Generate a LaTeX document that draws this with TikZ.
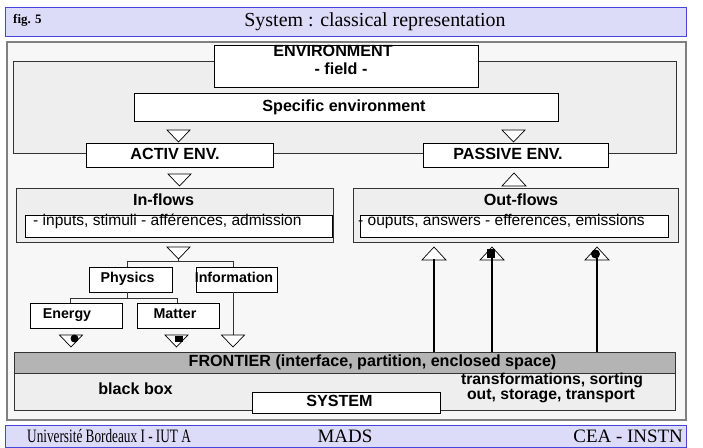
\documentclass[tikz,border=0pt]{standalone}
\usepackage{fontspec}
\setmainfont{Liberation Sans}
\newfontfamily\serifft{Liberation Serif}
\usetikzlibrary{calc}
\definecolor{barfill}{HTML}{DCDCF8}
\definecolor{barline}{HTML}{4646DC}
\definecolor{framefill}{HTML}{F7F7F7}
\definecolor{framebd}{HTML}{808080}
\definecolor{panel}{HTML}{EEEEEE}
\definecolor{frontierfill}{HTML}{B4B4B4}
\definecolor{boxbd}{HTML}{333333}
\begin{document}
\begin{tikzpicture}[x=1bp,y=-1bp,
  bar/.style={draw=barline, fill=barfill, line width=0.8pt, inner sep=0pt},
  wbox/.style={draw=black, fill=white, line width=0.8pt, inner sep=0pt},
  gpanel/.style={draw=boxbd, fill=panel, line width=0.8pt, inner sep=0pt},
  lab/.style={font=\bfseries\fontsize{16.2}{18}\selectfont, inner sep=0pt, anchor=base},
  tlab/.style={font=\bfseries\fontsize{14.3}{16}\selectfont, inner sep=0pt, anchor=base},
  flowtxt/.style={font=\fontsize{15.6}{17}\selectfont, inner sep=0pt, anchor=base west},
  sertxt/.style={font=\serifft\fontsize{19}{21}\selectfont, inner sep=0pt},
  conn/.style={draw=boxbd, line width=0.7pt},
  flowline/.style={draw=black, line width=2.4pt},
  downtri/.pic={\draw[black, fill=white, line width=0.7pt] (-11.5,0) -- (11.5,0) -- (0,12) -- cycle;},
  uptri/.pic={\draw[black, fill=white, line width=0.7pt] (-12,0) -- (12,0) -- (0,-13) -- cycle;}
]
\useasboundingbox (0,0) rectangle (703,448);
% title and footer bars
\node[bar, minimum width=681bp, minimum height=29bp] (titlebar) at (345.5,21.5) {};
\draw[barline, line width=1.6pt] (titlebar.north east) -- (titlebar.south east) -- (titlebar.south west);
\node[font=\serifft\bfseries\fontsize{13}{15}\selectfont, inner sep=0pt, anchor=base west] (fig) at (13,24) {fig. 5};
\node[font=\serifft\fontsize{20}{22}\selectfont, inner sep=0pt, anchor=base] (ttl) at (375,27) {System : classical representation};
\node[bar, minimum width=681bp, minimum height=22bp] (footbar) at (345.5,436) {};
\draw[barline, line width=1.6pt] (footbar.north east) -- (footbar.south east);
\node[sertxt, anchor=base west] (f1) at (27,442) {\scalebox{0.7}[1]{Université Bordeaux I - IUT A}};
\node[sertxt, anchor=base] (f2) at (345,442) {MADS};
\node[sertxt, anchor=base east] (f3) at (683,442) {CEA - INSTN};
% main frame
\node[draw=framebd, fill=framefill, line width=1.6pt, minimum width=679bp, minimum height=378bp, inner sep=0pt] (frame) at (346.5,231) {};
% environment panel
\node[gpanel, minimum width=663bp, minimum height=92bp] (envpanel) at (344.5,107) {};
\node[wbox, minimum width=264bp, minimum height=42bp] (envbox) at (346,66) {};
\node[lab] (tenv1) at (333,57) {ENVIRONMENT};
\node[lab] (tenv2) at (341,75) {- field -};
\node[wbox, minimum width=424bp, minimum height=28bp] (spec) at (346,107) {};
\node[lab] (tspec) at (344,112) {Specific environment};
\pic at (178.5,130) {downtri};
\pic at (513.5,130) {downtri};
\node[wbox, minimum width=187bp, minimum height=24bp] (activ) at (179.5,155) {};
\node[lab] (tactiv) at (175,160) {ACTIV ENV.};
\node[wbox, minimum width=185bp, minimum height=24bp] (passive) at (515.5,155) {};
\node[lab] (tpassive) at (508,160) {PASSIVE ENV.};
\pic at (179.5,174) {downtri};
\pic at (514,186) {uptri};
% flows
\node[gpanel, minimum width=317bp, minimum height=54bp] (inflows) at (174.5,215) {};
\node[lab] (tin) at (163.5,206) {In-flows};
\node[wbox, minimum width=307bp, minimum height=22bp] (ininner) at (178.5,226) {};
\node[flowtxt] (tinputs) at (33,226) {- inputs, stimuli - afférences, admission};
\node[gpanel, minimum width=325bp, minimum height=54bp] (outflows) at (515.5,215) {};
\node[lab] (tout) at (521,206) {Out-flows};
\node[wbox, minimum width=308bp, minimum height=22bp] (outinner) at (514,226) {};
\node[flowtxt] (toutputs) at (358,226) {- ouputs, answers - efferences, emissions};
% tree
\pic at (178.5,247) {downtri};
\coordinate (tapex) at (178.5,259);
\coordinate (ta) at (127,261);
\coordinate (tb) at (233,261);
\coordinate (tc) at (70,298);
\coordinate (td) at (177,298);
\node[wbox, minimum width=83bp, minimum height=25bp] (physics) at (130.5,279.5) {};
\node[tlab] (tphys) at (127.5,282.5) {Physics};
\node[wbox, minimum width=81bp, minimum height=25bp] (info) at (236.5,279.5) {};
\node[tlab] (tinfo) at (234,282.5) {Information};
\node[wbox, minimum width=92bp, minimum height=25bp] (energy) at (76,315.5) {};
\node[tlab] (tenergy) at (67,319) {Energy};
\node[wbox, minimum width=82bp, minimum height=25bp] (matter) at (178,315.5) {};
\node[tlab] (tmatter) at (175,319) {Matter};
\draw[conn] (tapex) -- (tapex |- ta);
\draw[conn] (ta |- physics.north) -- (ta) -- (tb) -- (tb |- info.north);
\draw[conn] (ta |- physics.south) -- (ta |- tc);
\draw[conn] (tc |- energy.north) -- (tc) -- (td) -- (td |- matter.north);
\coordinate (itri) at (233,335);
\draw[conn] (tb |- info.south) -- (itri);
\pic at (71,335) {downtri};
\fill[black] (74.5,338.5) circle[radius=4];
\pic at (176.5,335) {downtri};
\fill[black] (175,335.5) rectangle (183,342);
\pic at (233,335) {downtri};
% system
\node[draw=boxbd, fill=panel, line width=0.8pt, minimum width=661bp, minimum height=37bp, inner sep=0pt] (lower) at (344.5,391.5) {};
\node[draw=boxbd, fill=frontierfill, line width=0.8pt, minimum width=661bp, minimum height=21bp, inner sep=0pt] (frontier) at (344.5,362.5) {};
\node[lab] (tfront) at (372.5,366.5) {FRONTIER (interface, partition, enclosed space)};
\node[lab] (tbb) at (135.5,394) {black box};
\node[lab, font=\bfseries\fontsize{15.8}{17}\selectfont] (ttrans1) at (552,384.5) {transformations, sorting};
\node[lab, font=\bfseries\fontsize{15.8}{17}\selectfont] (ttrans2) at (551,399) {out, storage, transport};
\node[wbox, minimum width=188bp, minimum height=21bp] (system) at (346,402.5) {};
\node[lab] (tsys) at (339.5,406) {SYSTEM};
% out-flow arrows
\coordinate (a1) at (434,260);
\coordinate (a2) at (492,260);
\coordinate (a3) at (597,260);
\draw[flowline] (frontier.north -| a1) -- (a1);
\draw[flowline] (frontier.north -| a2) -- (a2);
\draw[flowline] (frontier.north -| a3) -- (a3);
\pic at (434,260) {uptri};
\pic at (492,260) {uptri};
\pic at (597,260) {uptri};
\draw[flowline] (a1) -- ++(0,-1);
\fill[black] (486.5,249) rectangle (495,258);
\draw[flowline] (a2) -- ++(0,-2);
\fill[black] (595.5,254) circle[radius=4.5];
\draw[flowline] (a3) -- ++(0,-2);
\end{tikzpicture}
\end{document}
